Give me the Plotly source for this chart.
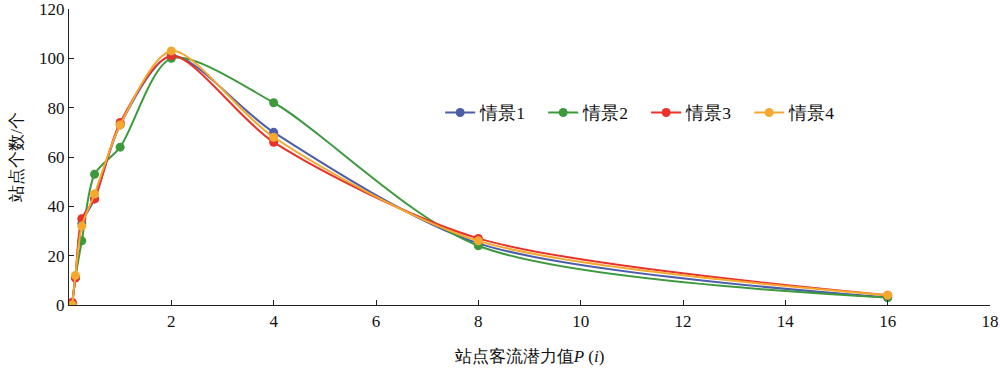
import plotly.graph_objects as go

x_vals = [0.0625, 0.125, 0.25, 0.5, 1, 2, 4, 8, 16]
s1 = [1, 11, 33, 43, 73, 101, 70, 25, 3]
s2 = [0, 11, 26, 53, 64, 100, 82, 24, 3]
s3 = [1, 11, 35, 43, 74, 101, 66, 27, 4]
s4 = [0, 12, 32, 45, 73, 103, 68, 26, 4]
names = ["情景1", "情景2", "情景3", "情景4"]
colors = ["#4c5ea8", "#3c9a3c", "#e8322a", "#f4a92e"]
x_ticks = [2, 4, 6, 8, 10, 12, 14, 16, 18]
y_ticks = [0, 20, 40, 60, 80, 100, 120]

font_main = "Liberation Serif"

fig = go.Figure()
for name, ys, c in zip(names, [s1, s2, s3, s4], colors):
    fig.add_trace(go.Scatter(
        x=x_vals, y=ys, name=name, mode="lines+markers",
        line=dict(color=c, width=2, shape="spline", smoothing=0.8),
        marker=dict(color=c, size=9),
    ))

fig.update_layout(
    width=1000, height=370,
    margin=dict(l=69, r=10, t=9, b=65, autoexpand=False),
    paper_bgcolor="white", plot_bgcolor="white",
    font=dict(family=font_main, size=17, color="#111"),
    legend=dict(orientation="h", x=0.403, y=0.65, xanchor="left", yanchor="middle",
                font=dict(size=17.5, family=font_main), itemwidth=30, entrywidth=58,
                bgcolor="rgba(0,0,0,0)"),
    xaxis=dict(range=[0, 18], tickvals=x_ticks, showline=True, linecolor="#222", linewidth=1.2,
               ticks="inside", ticklen=5, tickcolor="#222", showgrid=False, zeroline=False,
               automargin=False, ticklabeloverflow="allow",
               title=dict(text="站点客流潜力值<i>P</i> (<i>i</i>)", font=dict(size=17), standoff=20)),
    yaxis=dict(range=[0, 120], tickvals=y_ticks, showline=True, linecolor="#222", linewidth=1.2,
               ticks="inside", ticklen=5, tickcolor="#222", showgrid=False, zeroline=False,
               automargin=False, ticklabeloverflow="allow",
               title=dict(text="站点个数/个", font=dict(size=17), standoff=12)),
)
fig.write_html("out.html", config={"displayModeBar": False},
               post_script="document.body.style.margin='0';")
